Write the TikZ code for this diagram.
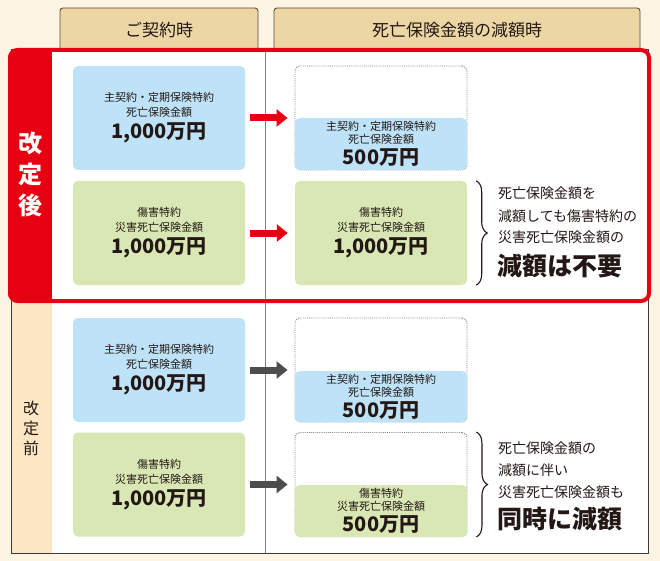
\documentclass[tikz,border=0pt]{standalone}
\usepackage{fontspec}
\setmainfont{Noto Sans CJK JP}
\usetikzlibrary{arrows.meta,decorations.pathreplacing}

\definecolor{bgcream}{HTML}{FEF4E3}
\definecolor{tabtan}{HTML}{EBD6A4}
\definecolor{tabline}{HTML}{5C4B3B}
\definecolor{colorange}{HTML}{FDE6C3}
\definecolor{kred}{HTML}{E60012}
\definecolor{boxblue}{HTML}{BEE3F8}
\definecolor{boxgreen}{HTML}{D8E7B3}
\definecolor{ink}{HTML}{231815}
\definecolor{arrowgray}{HTML}{4D4D4D}
\definecolor{frameline}{HTML}{3A3A3A}
\definecolor{dotgray}{HTML}{8A8A8A}

\begin{document}
\begin{tikzpicture}[x=1pt,y=-1pt,
  tab/.style={draw=tabline,fill=tabtan,line width=0.9pt,rounded corners=3pt,minimum height=44pt,inner sep=0pt,text=ink,font=\fontsize{17pt}{20pt}\selectfont},
  box/.style={rounded corners=5pt,minimum width=172pt,inner sep=0pt,align=center,text=ink},
  bluebox/.style={box,fill=boxblue},
  greenbox/.style={box,fill=boxgreen},
  slot/.style={box,draw=dotgray,densely dotted,line width=0.9pt,minimum height=104pt},
  redarrow/.style={-{Triangle[length=11pt,width=17pt]},line width=7pt,kred,shorten <=5pt,shorten >=7pt},
  grayarrow/.style={redarrow,arrowgray},
  brc/.style={decorate,decoration={brace,amplitude=11pt},line width=1.1pt,ink},
  note/.style={anchor=base west,inner sep=0pt,text=ink,font=\fontsize{14pt}{16pt}\selectfont},
  bignote/.style={note,font=\fontsize{25pt}{27pt}\selectfont\bfseries}]

\useasboundingbox (0,0) rectangle (660,561);
\fill[bgcream] (0,0) rectangle (660,561);

% column heads
\node[tab,minimum width=198pt] (headA) at (159,30) {ご契約時};
\node[tab,minimum width=366pt] (headB) at (457,30) {死亡保険金額の減額時};

% frame
\fill[white] (11,50) rectangle (648,553);
\fill[colorange] (11,50) rectangle (52,553);
\draw[frameline,line width=1pt] (11,50) rectangle (648,553);
\draw[gray,line width=0.9pt] (265,50) -- (265,553);

% red part
\begin{scope}
\clip[rounded corners=10pt] (8,48) rectangle (651,303);
\fill[kred] (8,48) rectangle (52,303);
\end{scope}
\draw[kred,line width=4pt,rounded corners=8pt] (10,50) rectangle (649,301);

\node[align=center,text=white,inner sep=0pt,font=\fontsize{24pt}{31pt}\selectfont\bfseries] (after) at (30,174) {改\\定\\後};
\node[align=center,text=ink,inner sep=0pt,font=\fontsize{16pt}{20pt}\selectfont] (before) at (31,428) {改\\定\\前};

% left boxes
\node[bluebox,minimum height=104pt,font=\fontsize{11pt}{15pt}\selectfont] (mainA) at (159,118)
  {主契約・定期保険特約\\死亡保険金額\\[4pt]{\fontsize{20pt}{20pt}\selectfont\bfseries 1,000万円}};
\node[greenbox,minimum height=104pt,font=\fontsize{11pt}{15pt}\selectfont] (injA) at (159,233)
  {傷害特約\\災害死亡保険金額\\[4pt]{\fontsize{20pt}{20pt}\selectfont\bfseries 1,000万円}};
\node[bluebox,minimum height=104pt,font=\fontsize{11pt}{15pt}\selectfont] (mainB) at (159,370)
  {主契約・定期保険特約\\死亡保険金額\\[4pt]{\fontsize{20pt}{20pt}\selectfont\bfseries 1,000万円}};
\node[greenbox,minimum height=104pt,font=\fontsize{11pt}{15pt}\selectfont] (injB) at (159,484.5)
  {傷害特約\\災害死亡保険金額\\[4pt]{\fontsize{20pt}{20pt}\selectfont\bfseries 1,000万円}};

% right boxes
\node[slot] (slotA) at (381,118) {};
\node[bluebox,minimum height=52pt,font=\fontsize{11pt}{13pt}\selectfont] (mainAr) at (381,144)
  {主契約・定期保険特約\\死亡保険金額\\[3pt]{\fontsize{20pt}{20pt}\selectfont\bfseries 500万円}};
\node[greenbox,minimum height=104pt,font=\fontsize{11pt}{15pt}\selectfont] (injAr) at (381,233)
  {傷害特約\\災害死亡保険金額\\[4pt]{\fontsize{20pt}{20pt}\selectfont\bfseries 1,000万円}};
\node[slot] (slotB) at (381,370) {};
\node[bluebox,minimum height=51pt,font=\fontsize{11pt}{13pt}\selectfont] (mainBr) at (381,396.5)
  {主契約・定期保険特約\\死亡保険金額\\[3pt]{\fontsize{20pt}{20pt}\selectfont\bfseries 500万円}};
\node[slot] (slotC) at (381,484.5) {};
\node[greenbox,minimum height=52pt,font=\fontsize{11pt}{13pt}\selectfont] (injBr) at (381,511)
  {傷害特約\\災害死亡保険金額\\[3pt]{\fontsize{20pt}{20pt}\selectfont\bfseries 500万円}};

% arrows
\draw[redarrow] (mainA) -- (slotA);
\draw[redarrow] (injA) -- (injAr);
\draw[grayarrow] (mainB) -- (slotB);
\draw[grayarrow] (injB) -- (slotC);

% braces and notes
\draw[brc] ([xshift=9pt]injAr.north east) -- ([xshift=9pt]injAr.south east);
\draw[brc] ([xshift=9pt]slotC.north east) -- ([xshift=9pt]slotC.south east);

\node[note] (noteA1) at (498,199) {死亡保険金額を};
\node[note] (noteA2) at (498,221) {減額しても傷害特約の};
\node[note] (noteA3) at (498,242) {災害死亡保険金額の};
\node[bignote] (noteA4) at (497,275) {減額は不要};
\node[note] (noteB1) at (498,453) {死亡保険金額の};
\node[note] (noteB2) at (498,475) {減額に伴い};
\node[note] (noteB3) at (498,497) {災害死亡保険金額も};
\node[bignote] (noteB4) at (497,528) {同時に減額};
\end{tikzpicture}
\end{document}
